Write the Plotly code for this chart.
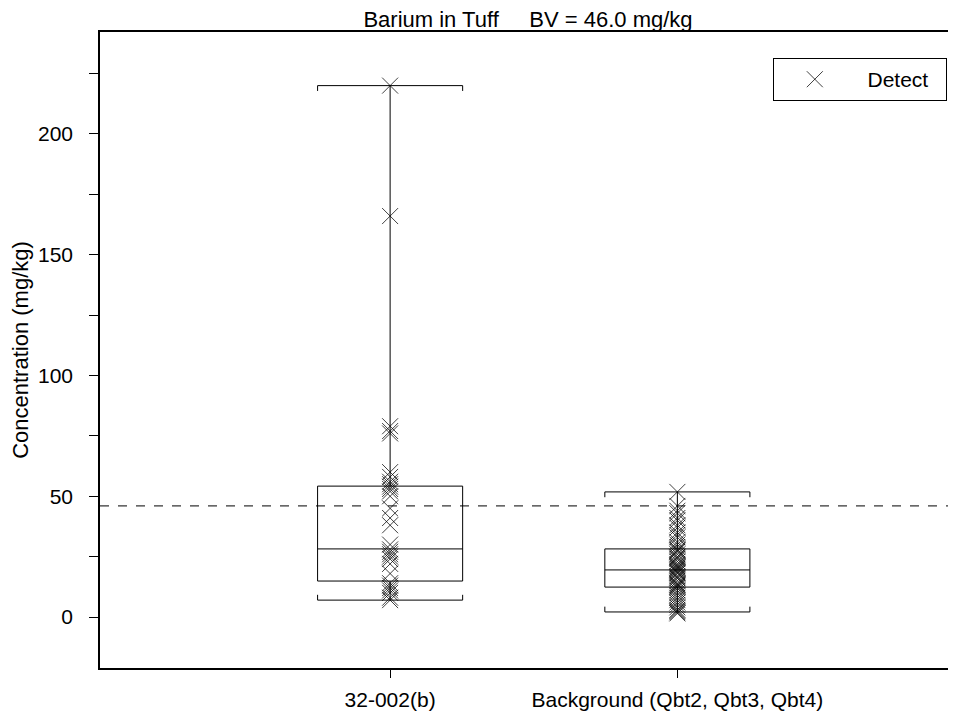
import plotly.graph_objects as go

# ---- data ----
categories = ["32-002(b)", "Background (Qbt2, Qbt3, Qbt4)"]
positions = [0, 1]
bv_value = 46.0

q1 = [14.9, 12.4]
median = [28.2, 19.5]
q3 = [54.2, 28.2]
lower_fence = [7.0, 2.1]
upper_fence = [220.0, 51.8]

detects_site = [220, 166, 79, 77, 76, 60, 58, 56, 55, 54, 53, 52, 50, 45, 41,
                38, 30, 28, 27, 26, 25, 24, 22, 18, 14, 13, 12, 11, 10, 8, 7]
detects_bkg = [51.8, 46, 44, 43, 41, 40, 38, 37, 35, 34, 33, 31, 30, 29, 28,
               27.5, 27, 26, 25, 24.5, 24, 23, 22, 21.5, 21, 20.5, 20, 19.5, 19,
               18.5, 18, 17, 16.5, 16, 15, 14, 13.5, 13, 12.5, 12, 11, 10, 9, 8,
               7, 6, 5, 4, 3, 2.5, 2, 1.5]

yticks = [0, 50, 100, 150, 200]

BOX_W = 0.505
FONT = "Liberation Sans, Arial, sans-serif"
FIG_W, FIG_H = 948, 705   # page body has an 8px margin

fig = go.Figure()

for i, pos in enumerate(positions):
    fig.add_trace(go.Box(
        x=[pos], q1=[q1[i]], median=[median[i]], q3=[q3[i]],
        lowerfence=[lower_fence[i]], upperfence=[upper_fence[i]],
        width=BOX_W, whiskerwidth=1, boxpoints=False,
        line=dict(color="black", width=1), fillcolor="rgba(255,255,255,0)",
        showlegend=False, hoverinfo="skip"))
    # little end ticks on whisker caps
    d = 2.2
    xl, xr = pos - BOX_W / 2, pos + BOX_W / 2
    fig.add_trace(go.Scatter(
        x=[xl, xl, None, xr, xr, None, xl, xl, None, xr, xr],
        y=[upper_fence[i], upper_fence[i] - d, None, upper_fence[i], upper_fence[i] - d, None,
           lower_fence[i], lower_fence[i] + d, None, lower_fence[i], lower_fence[i] + d],
        mode="lines", line=dict(color="black", width=1),
        showlegend=False, hoverinfo="skip"))

fig.add_trace(go.Scatter(
    x=[positions[0]] * len(detects_site) + [positions[1]] * len(detects_bkg),
    y=detects_site + detects_bkg,
    mode="markers", name="\u00a0\u00a0Detect\u00a0\u00a0",
    marker=dict(symbol="x-thin-open", size=16, color="rgba(0,0,0,0.75)",
                line=dict(color="rgba(0,0,0,0.75)", width=1)),
    showlegend=True))

fig.add_shape(type="line", xref="paper", x0=0, x1=1, yref="y", y0=bv_value, y1=bv_value,
              line=dict(color="black", width=1, dash="dash"))

fig.update_layout(
    width=FIG_W, height=FIG_H,
    margin=dict(l=92, r=0, t=24, b=45),
    paper_bgcolor="white", plot_bgcolor="white",
    font=dict(family=FONT, size=21, color="black"),
    title=dict(text="Barium in Tuff     BV = 46.0 mg/kg", x=0.5, xanchor="center",
               xref="paper", yref="container", y=1 - 11 / FIG_H, yanchor="middle",
               font=dict(family=FONT, size=22, color="black")),
    legend=dict(x=0.786, y=0.959, xanchor="left", yanchor="top",
                bordercolor="black", borderwidth=1, bgcolor="white",
                font=dict(family=FONT, size=21), itemwidth=72, tracegroupgap=0),
)

fig.update_xaxes(range=[-1.01, 1.97], tickmode="array", tickvals=positions, ticktext=categories,
                 showgrid=False, zeroline=False, showline=True, linecolor="black", linewidth=1.5,
                 mirror=True, ticks="outside", ticklen=8, tickcolor="black",
                 ticklabelstandoff=4,
                 tickfont=dict(family=FONT, size=21))
fig.update_yaxes(range=[-21.1, 242.2], tickmode="array", tickvals=yticks,
                 showgrid=False, zeroline=False, showline=True, linecolor="black", linewidth=1.5,
                 ticks="outside", ticklen=9, tickcolor="black",
                 ticklabelstandoff=12,
                 minor=dict(dtick=25, tick0=0, ticks="outside", ticklen=9, tickcolor="black", showgrid=False),
                 title=dict(text="Concentration (mg/kg)", font=dict(family=FONT, size=22), standoff=8),
                 tickfont=dict(family=FONT, size=21))

fig.write_html("out.html")
